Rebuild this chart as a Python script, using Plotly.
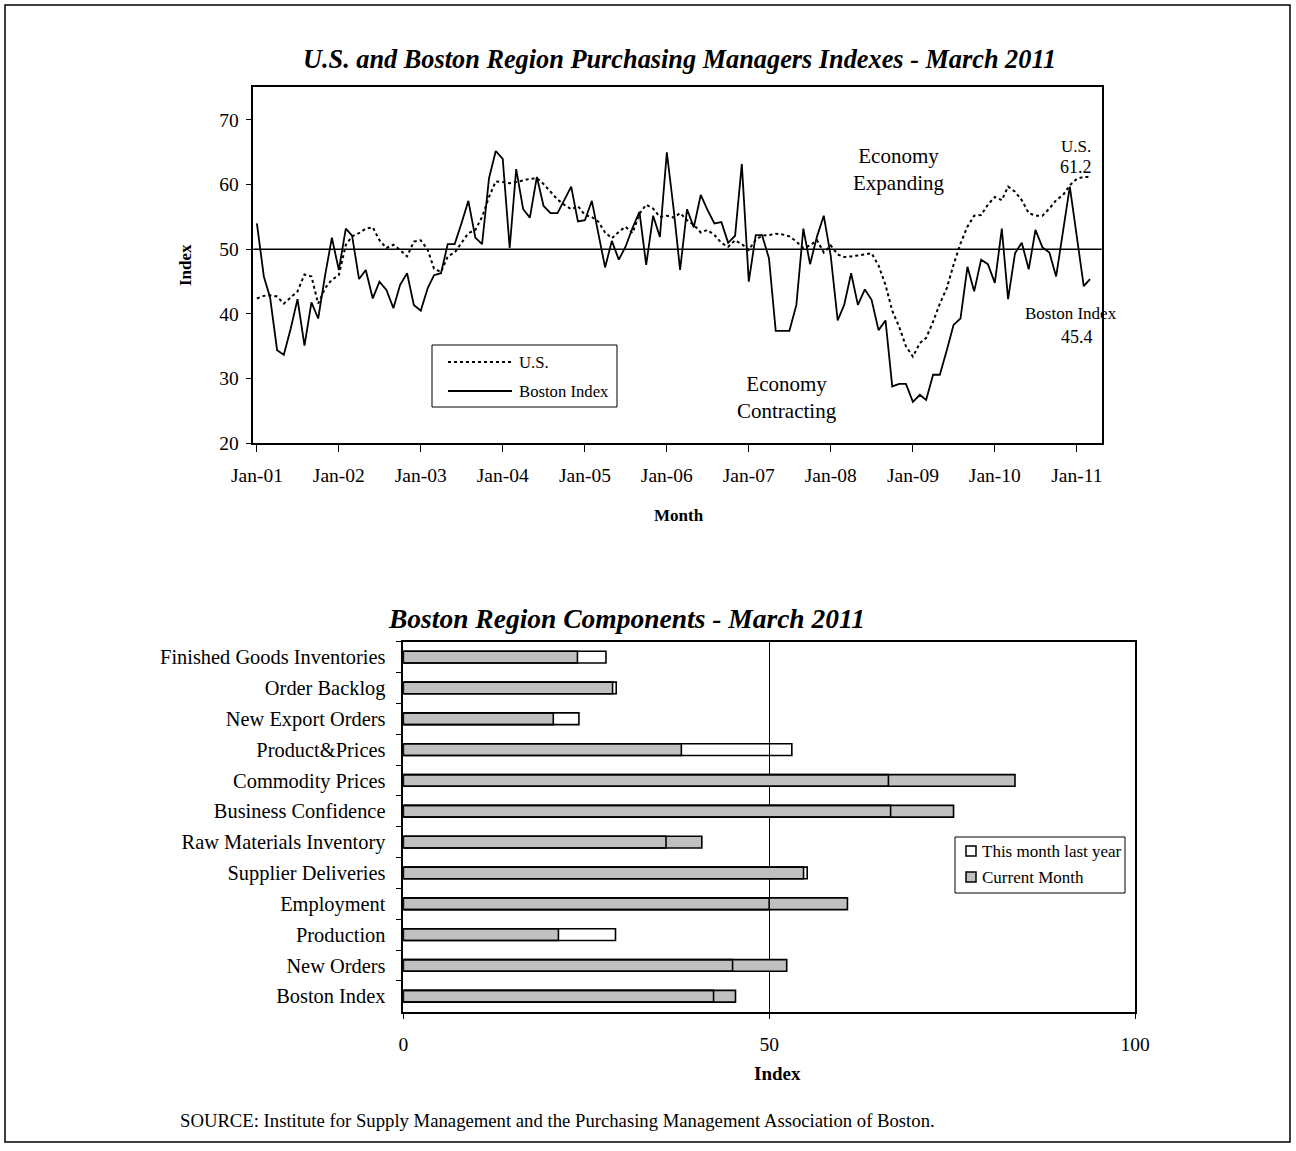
import pandas as pd
import plotly.graph_objects as go

# ---------------- data ----------------
months = pd.date_range("2001-01-01", periods=123, freq="MS")

us_pmi = [
    42.4, 42.8, 42.9, 42.7, 41.6, 42.6, 43.5, 46.1, 45.8, 41.6, 44.0, 45.3,   # 2001
    46.0, 50.7, 52.0, 52.5, 53.2, 53.4, 51.4, 50.2, 50.7, 49.9, 48.9, 51.2,   # 2002
    51.4, 49.9, 47.0, 46.5, 48.9, 49.5, 50.9, 52.5, 53.0, 55.0, 58.1, 60.5,   # 2003
    60.4, 60.2, 60.4, 60.7, 60.9, 61.0, 60.1, 58.9, 57.7, 56.9, 56.2, 56.7,   # 2004
    55.3, 55.0, 54.3, 52.6, 51.7, 52.7, 53.5, 52.5, 55.5, 56.9, 56.3, 55.0,   # 2005
    55.2, 54.9, 55.6, 54.5, 53.8, 52.6, 53.0, 52.2, 51.0, 50.4, 51.4, 50.8,   # 2006
    49.9, 51.5, 52.1, 52.2, 52.4, 52.3, 52.0, 51.2, 50.2, 50.6, 51.4, 49.5,   # 2007
    50.6, 49.2, 48.8, 48.9, 49.0, 49.2, 49.4, 47.5, 44.5, 40.5, 38.0, 35.0,   # 2008
    33.4, 35.5, 36.3, 38.8, 41.6, 44.0, 47.6, 50.9, 53.5, 55.2, 55.3, 56.9,   # 2009
    58.1, 57.6, 59.7, 58.9, 57.6, 55.6, 55.2, 55.2, 56.3, 57.6, 58.4, 59.9,   # 2010
    60.9, 61.2, 61.2,                                                         # 2011
]

boston_pmi = [
    54.0, 45.8, 42.5, 34.4, 33.7, 37.8, 42.3, 35.1, 41.8, 39.3, 46.0, 51.8,   # 2001
    46.8, 53.2, 52.1, 45.4, 46.8, 42.4, 45.0, 43.7, 40.9, 44.5, 46.3, 41.4,   # 2002
    40.5, 44.0, 46.0, 46.3, 50.8, 50.8, 54.0, 57.5, 51.8, 50.8, 61.0, 65.2,   # 2003
    64.0, 50.2, 62.4, 56.2, 54.9, 61.2, 56.7, 55.6, 55.6, 57.6, 59.7, 54.3,   # 2004
    54.5, 57.5, 52.5, 47.2, 51.3, 48.4, 50.4, 53.3, 55.8, 47.6, 55.2, 51.9,   # 2005
    65.0, 56.0, 46.8, 56.2, 53.4, 58.4, 56.1, 54.0, 54.2, 51.0, 52.1, 63.2,   # 2006
    45.0, 52.2, 52.2, 48.6, 37.4, 37.4, 37.4, 41.4, 53.2, 47.7, 52.0, 55.2,   # 2007
    49.0, 39.0, 41.4, 46.3, 41.4, 43.8, 42.2, 37.5, 39.0, 28.8, 29.2, 29.2,   # 2008
    26.4, 27.5, 26.7, 30.6, 30.6, 34.4, 38.3, 39.3, 47.3, 43.5, 48.4, 47.7,   # 2009
    44.8, 53.2, 42.3, 49.4, 51.0, 46.9, 53.0, 50.3, 49.5, 45.8, 52.7, 59.7,   # 2010
    52.0, 44.3, 45.4,                                                         # 2011
]

components = [
    "Boston Index", "New Orders", "Production", "Employment",
    "Supplier Deliveries", "Raw Materials Inventory", "Business Confidence",
    "Commodity Prices", "Product&Prices", "New Export Orders",
    "Order Backlog", "Finished Goods Inventories",
]
current_month = [45.4, 52.4, 21.2, 60.7, 54.7, 40.8, 75.2, 83.6, 38.0, 20.5, 28.6, 23.8]
last_year = [42.4, 45.0, 29.0, 50.0, 55.2, 35.9, 66.6, 66.3, 53.1, 24.0, 29.1, 27.7]

year_ticks = pd.date_range("2001-01-01", periods=11, freq="YS")
year_labels = [d.strftime("Jan-%y") for d in year_ticks]

# ---------------- layout helpers ----------------
W, H = 1296, 1151
FONT = "Liberation Serif, Times New Roman, serif"
GRAY = "#C0C0C0"


def px(x):
    return x / W


def py(y):
    return 1 - y / H


fig = go.Figure()

# ---------- top chart ----------
fig.add_trace(go.Scatter(
    x=months, y=us_pmi, mode="lines", name="U.S.",
    line=dict(color="black", width=2, dash="3px,3px"),
    xaxis="x", yaxis="y", showlegend=False,
))
fig.add_trace(go.Scatter(
    x=months, y=boston_pmi, mode="lines", name="Boston Index",
    line=dict(color="black", width=1.8),
    xaxis="x", yaxis="y", showlegend=False,
))

# ---------- bottom chart ----------
fig.add_trace(go.Bar(
    y=components, x=current_month, orientation="h", name="Current Month",
    marker=dict(color=GRAY, line=dict(color="black", width=1.6)),
    width=0.38, xaxis="x2", yaxis="y2", showlegend=False,
))
fig.add_trace(go.Bar(
    y=components, x=last_year, orientation="h", name="This month last year",
    marker=dict(color="rgba(255,255,255,0)", line=dict(color="black", width=1.6)),
    width=0.38, xaxis="x2", yaxis="y2", showlegend=False,
))

axis_common = dict(
    showline=True, linecolor="black", linewidth=1.5, mirror=True,
    ticks="outside", tickcolor="black", tickwidth=1.3,
    tickfont=dict(family=FONT, size=19.5, color="black"),
    zeroline=False, automargin=False,
)

fig.update_layout(
    width=W, height=H,
    margin=dict(l=0, r=0, t=0, b=0, pad=0, autoexpand=False),
    paper_bgcolor="white", plot_bgcolor="white",
    font=dict(family=FONT, color="black"),
    barmode="overlay",
    showlegend=False,
    xaxis=dict(
        domain=[px(253.3), px(1101.7)], anchor="y",
        type="date", range=["2000-12-16", "2011-04-22"],
        tickvals=list(year_ticks), ticktext=year_labels,
        ticklen=7, ticklabelstandoff=7, showgrid=False, **axis_common,
    ),
    yaxis=dict(
        domain=[py(443.3), py(87)], anchor="x",
        range=[20, 75.1], tickvals=[20, 30, 40, 50, 60, 70],
        ticklen=6, ticklabelstandoff=3, showgrid=False, **axis_common,
    ),
    xaxis2=dict(
        domain=[px(403.3), px(1135)], anchor="y2",
        range=[0, 100], tickvals=[0, 50, 100], ticklen=6, ticklabelstandoff=8,
        showgrid=True, gridcolor="black", gridwidth=1.3,
        **axis_common,
    ),
    yaxis2=dict(
        domain=[py(1011.7), py(641.7)], anchor="x2",
        type="category", categoryorder="array", categoryarray=components,
        range=[-0.5, 11.5], tickson="boundaries", ticklen=6, ticklabelstandoff=12,
        showgrid=False,
        **{**axis_common, "tickfont": dict(family=FONT, size=20.4, color="black")},
    ),
)

shapes = []
# horizontal 50 line on the top chart
shapes.append(dict(type="line", xref="x domain", yref="y", x0=0, x1=1, y0=50, y1=50,
                   line=dict(color="black", width=1.5)))
# outer frame
shapes.append(dict(type="rect", xref="paper", yref="paper",
                   x0=px(5), x1=px(1290), y0=py(1142), y1=py(5),
                   line=dict(color="black", width=1.5)))
# legend box for top chart
shapes.append(dict(type="rect", xref="paper", yref="paper",
                   x0=px(432), x1=px(617), y0=py(407), y1=py(345),
                   line=dict(color="black", width=1), fillcolor="white", layer="above"))
shapes.append(dict(type="line", xref="paper", yref="paper",
                   x0=px(448), x1=px(512), y0=py(362), y1=py(362),
                   line=dict(color="black", width=2, dash="3px,3px")))
shapes.append(dict(type="line", xref="paper", yref="paper",
                   x0=px(448), x1=px(512), y0=py(391), y1=py(391),
                   line=dict(color="black", width=1.8)))
# legend box for bottom chart
shapes.append(dict(type="rect", xref="paper", yref="paper",
                   x0=px(955), x1=px(1125), y0=py(893), y1=py(837),
                   line=dict(color="black", width=1), fillcolor="white", layer="above"))
shapes.append(dict(type="rect", xref="paper", yref="paper",
                   x0=px(966), x1=px(976), y0=py(856), y1=py(846),
                   line=dict(color="black", width=1.5), fillcolor="white", layer="above"))
shapes.append(dict(type="rect", xref="paper", yref="paper",
                   x0=px(966), x1=px(976), y0=py(882), y1=py(872),
                   line=dict(color="black", width=1.5), fillcolor=GRAY, layer="above"))
fig.update_layout(shapes=shapes)


def ann(text, x, y, size, bold=False, italic=False, xanchor="center", angle=0):
    t = text
    if bold:
        t = "<b>" + t + "</b>"
    if italic:
        t = "<i>" + t + "</i>"
    return dict(text=t, x=px(x), y=py(y), xref="paper", yref="paper",
                xanchor=xanchor, yanchor="middle", showarrow=False, textangle=angle,
                font=dict(family=FONT, size=size, color="black"))


annotations = [
    ann("U.S. and Boston Region Purchasing Managers Indexes - March 2011", 679, 60, 26.3, bold=True, italic=True),
    ann("Index", 186, 265, 17, bold=True, angle=-90),
    ann("Month", 679, 515, 17, bold=True),
    ann("Economy<br>Expanding", 898, 170, 21),
    ann("Economy<br>Contracting", 787, 397, 21),
    ann("U.S.", 1076, 147, 17),
    ann("61.2", 1076, 167, 18),
    ann("Boston Index", 1071, 314, 17),
    ann("45.4", 1077, 337, 18),
    ann("U.S.", 517, 362, 16.7, xanchor="left"),
    ann("Boston Index", 517, 391, 16.7, xanchor="left"),
    ann("This month last year", 980, 851, 17, xanchor="left"),
    ann("Current Month", 980, 877, 17, xanchor="left"),
    ann("Boston Region Components - March 2011", 626, 618, 27.5, bold=True, italic=True),
    ann("Index", 777, 1073, 19, bold=True),
    ann("SOURCE: Institute for Supply Management and the Purchasing Management Association of Boston.",
        178, 1120, 18.7, xanchor="left"),
]
fig.update_layout(annotations=annotations)

# the page is exactly the figure: drop the browser's default 8px body margin
fig.write_html(
    "out.html",
    config={"displayModeBar": False},
    post_script="document.body.style.margin='0';document.body.style.overflow='hidden';",
)
